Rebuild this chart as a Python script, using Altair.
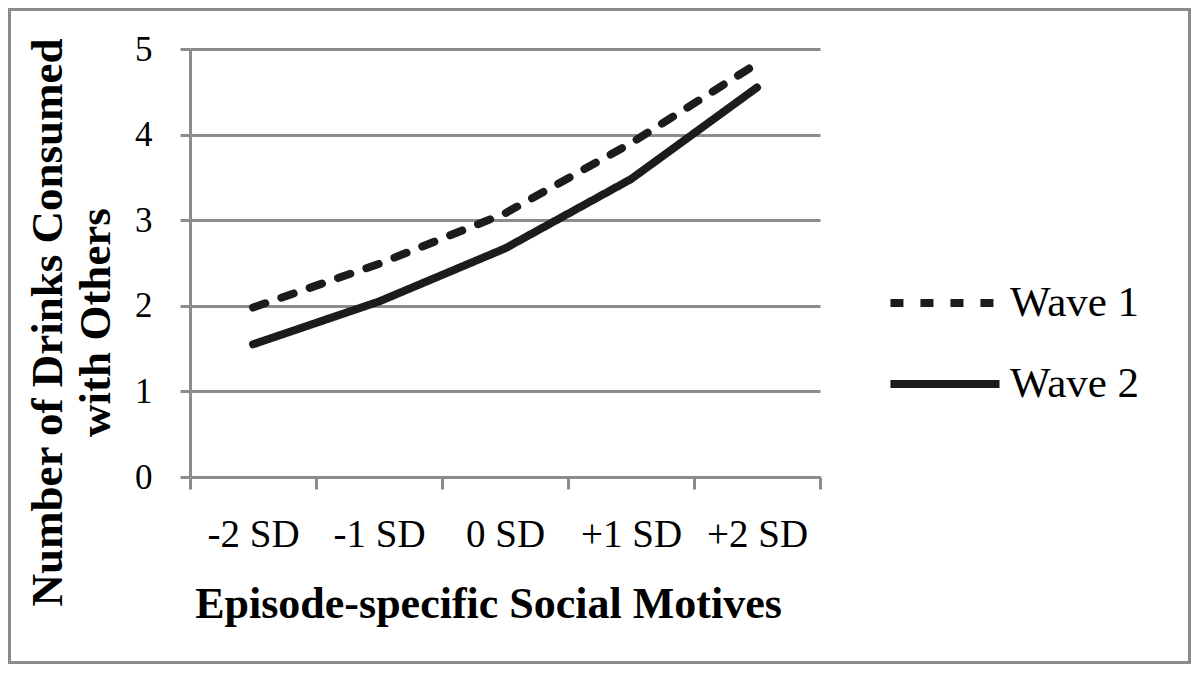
import altair as alt
import pandas as pd

categories = ["-2 SD", "-1 SD", "0 SD", "+1 SD", "+2 SD"]
series = ["Wave 1", "Wave 2"]
wave1 = [1.98, 2.49, 3.08, 3.90, 4.83]
wave2 = [1.55, 2.05, 2.67, 3.48, 4.55]
y_ticks = [0, 1, 2, 3, 4, 5]

rows = []
for name, vals in zip(series, [wave1, wave2]):
    for c, v in zip(categories, vals):
        rows.append({"cat": c, "series": name, "value": v})
df = pd.DataFrame(rows)

FONT = "Liberation Serif"
GRAY = "#8c8c8c"

lines = alt.Chart(df).mark_line(strokeWidth=8, color="#1c1c1c", strokeCap="round", strokeJoin="round").encode(
    x=alt.X("cat:O", sort=categories,
            scale=alt.Scale(type="band", paddingInner=0, paddingOuter=0),
            axis=alt.Axis(tickBand="extent", labelAngle=0,
                          labelBaseline="alphabetic", labelPadding=57,
                          labelFontSize=39, labelFont=FONT, labelColor="black",
                          tickSize=12, tickColor=GRAY, tickWidth=3,
                          domainColor=GRAY, domainWidth=3, grid=False,
                          title="Episode-specific Social Motives",
                          titleFont=FONT, titleFontSize=44, titleFontWeight="bold",
                          titleColor="black", titleX=298, titleY=140,
                          titleBaseline="alphabetic", titleAlign="center")),
    y=alt.Y("value:Q",
            scale=alt.Scale(domain=[0, 5], nice=False),
            axis=alt.Axis(values=y_ticks, format="d", labelFontSize=35, labelFont=FONT,
                          labelColor="black", labelPadding=28,
                          tickSize=10, tickColor=GRAY, tickWidth=3,
                          domainColor=GRAY, domainWidth=3,
                          grid=True, gridColor=GRAY, gridWidth=3,
                          title=["Number of Drinks Consumed", "with Others"],
                          titleFont=FONT, titleFontSize=45, titleFontWeight="bold",
                          titleColor="black", titleAngle=-90, titleX=-129, titleY=273,
                          titleBaseline="alphabetic", titleAlign="center",
                          titleLineHeight=48)),
    strokeDash=alt.StrokeDash("series:N",
                              scale=alt.Scale(domain=series, range=[[13, 17], [1, 0]]),
                              legend=alt.Legend(title=None, orient="none", legendX=696, legendY=195,
                                                symbolType="stroke", symbolSize=11900,
                                                symbolStrokeWidth=8, symbolStrokeColor="#1c1c1c",
                                                labelFont=FONT, labelFontSize=43, labelColor="black",
                                                labelOffset=6, rowPadding=-33)),
    detail="series:N",
)

border = alt.Chart(alt.Data(values=[{}])).mark_rect(filled=False, stroke=GRAY, strokeWidth=3).encode(
    x=alt.value(-180.5), x2=alt.value(999.5), y=alt.value(-39.5), y2=alt.value(613.5)
)

chart = alt.layer(border, lines).properties(
    width=630, height=428,
    padding={"left": 182, "top": 41, "right": 371, "bottom": 187},
    autosize=alt.AutoSizeParams(type="none"),
).configure_view(strokeWidth=0)

chart.save("out.html", embed_options={"renderer": "svg", "actions": False})
